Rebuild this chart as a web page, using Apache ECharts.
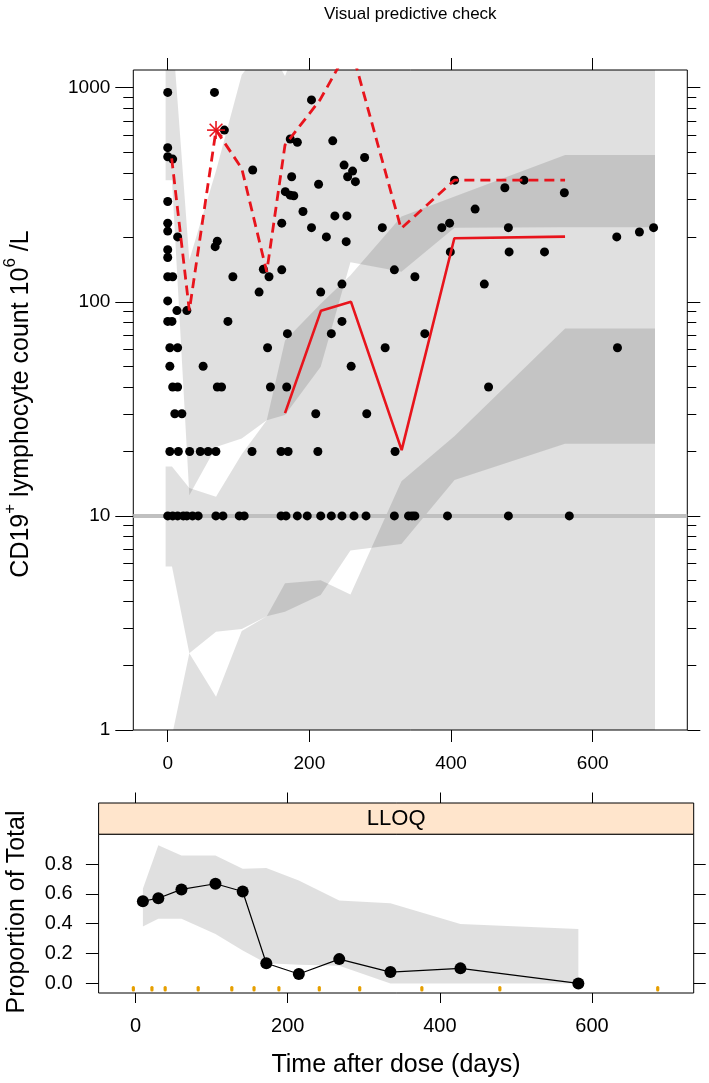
<!DOCTYPE html>
<html>
<head>
<meta charset="utf-8">
<script src="https://cdn.jsdelivr.net/npm/echarts@6/dist/echarts.min.js"></script>
<style>
html,body{margin:0;padding:0;background:#ffffff;}
#chart{width:709px;height:1083px;}
</style>
</head>
<body>
<div id="chart"></div>
<script>
// ================= DATA =================
// Upper panel: x positions (days) of the simulation bins used for the prediction-interval bands
const binX = [-3, 6, 30.5, 68.2, 104.5, 139.8, 165.6, 216, 258, 330, 405, 561, 688];
// 95% CI of the simulated upper percentile
const upperCI_lo = [370, 370, 12.5, 21, 23, 28, 29.6, 49.8, 153, 138, 222, 223, 223];
const upperCI_hi = [3000, 1950, 157, 409, 1150, 1600, 1135, 3000, 3000, 3000, 3000, 3000, 3000];
// 95% CI of the simulated median
const medianCI_lo = [5.8, 5.8, 2.28, 2.88, 2.96, 3.4, 3.57, 4.27, 6.9, 7.4, 14.7, 21.7, 21.7];
const medianCI_hi = [17, 17, 13.5, 12.3, 19.4, 28, 66, 98, 133, 250, 310, 485, 485];
// 95% CI of the simulated lower percentile
const lowerCI_lo = [0.3, 0.3, 0.3, 0.3, 0.3, 0.3, 0.3, 0.3, 0.3, 0.3, 0.3, 0.3, 0.3];
const lowerCI_hi = [0.94, 0.94, 2.28, 1.43, 2.9, 3.4, 4.85, 5.0, 4.3, 14.5, 23.6, 75, 75];

// Observed upper percentile (dashed) and observed median (solid)
const obsUpperX = [5.6, 30.5, 68.2, 104.5, 139.8, 165.6, 215, 258, 329.4, 404.7, 561];
const obsUpperY = [468, 91, 634, 420, 138, 540, 877, 1577, 220, 370, 370];
const obsMedianX = [165.6, 216.4, 258.8, 330.3, 404.7, 561];
const obsMedianY = [30.2, 90.9, 100, 20.3, 198, 201.6];
// Flagged observed percentile (asterisk)
const flagged = [[68.2, 634]];
// LLOQ reference line
const lloq = 10;

// Observed CD19+ counts: [time (days), count]
const observed = [
  [0,951],[0,525],[0,476],[7,464],[0,294],[0,233],[0,214],[14,201],[0,175],[0,161],[0,131],[7,131],
  [0,101],[13,91],[27,91],[0,81],[6,81],[3,61],[14,61],[3,50],[7,40],[14,40],[10,30],[20,30],
  [3,20],[15,20],[31,20],[46,20],[57,20],[68,20],[119,20],[160,20],[170,20],[212,20],[321,20],
  [0,10],[7,10],[14,10],[22,10],[27,10],[35,10],[43,10],[68,10],[78,10],[101,10],[108,10],[160,10],
  [167,10],[183,10],[197,10],[216,10],[231,10],[246,10],[263,10],[280,10],[320,10],[340,10],[345,10],
  [349,10],[395,10],[481,10],[567,10],
  [66,951],[80,634],[203,877],[120,413],[173,576],[183,556],[175,384],[213,354],[166,327],[173,315],
  [178,313],[191,264],[161,233],[203,222],[233,565],[278,472],[249,435],[261,408],[254,384],[265,364],
  [236,252],[253,252],[224,201],[252,191],[303,222],[70,192],[67,181],[92,131],[135,142],[143,131],
  [161,141],[129,111],[216,111],[246,121],[85,81],[246,81],[231,71],[169,71],[141,61],[307,61],
  [50,50],[259,50],[70,40],[76,40],[145,40],[168,40],[209,30],[281,30],[363,71],[453,40],[320,141],
  [349,131],[447,121],[405,370],[503,370],[476,341],[560,323],[434,271],[387,222],[398,233],[481,222],
  [399,171],[482,171],[532,171],[634,201],[666,212],[686,222],[635,61]
];

// Lower panel: proportion of observations below LLOQ
const llBinX = [9.6, 29.9, 60.3, 105, 140.8, 171.8, 214.6, 267.7, 335, 427, 582];
const llObs = [0.551, 0.571, 0.630, 0.668, 0.616, 0.135, 0.063, 0.163, 0.076, 0.101, 0.0];
const llSim_lo = [0.381, 0.433, 0.433, 0.332, 0.220, 0.135, 0.126, 0.119, 0.0, 0.0, 0.0];
const llSim_hi = [0.635, 0.926, 0.858, 0.858, 0.769, 0.773, 0.690, 0.556, 0.538, 0.399, 0.365];
// Bin boundaries (rug)
const binBounds = [-2.9, 21.5, 38.9, 82.3, 126.5, 155.7, 188.4, 241.5, 294.6, 376.3, 478.8, 686.3];

// Axis ticks
const xTicks = [0, 200, 400, 600];
const yMajor = [1, 10, 100, 1000];
const yMinor = [2,3,4,5,6,7,8,9,20,30,40,50,60,70,80,90,200,300,400,500,600,700,800,900];
const pTicks = [0, 0.2, 0.4, 0.6, 0.8];

// ================= STYLE / LAYOUT =================
const FONT = '"Liberation Sans", Arial, Helvetica, sans-serif';
const RED = '#e8141c';
const BAND = 'rgba(0,0,0,0.12)';
const X_MIN = -48.6, X_MAX = 733.6;
const Y_MIN = 1, Y_MAX = 1210;
const P_MIN = -0.064, P_MAX = 1.0;

const G0 = {left: 133.3, top: 70, width: 554, height: 660};
const G1 = {left: 98.6, top: 834.2, width: 595.1, height: 158.8};

const chart = echarts.init(document.getElementById('chart'), null, {renderer: 'canvas'});

function bandSeries(xs, lo, hi, xi, yi, z) {
  return {
    type: 'custom', xAxisIndex: xi, yAxisIndex: yi, clip: true, silent: true, z: z,
    data: [[xs[0], hi[0]]],
    renderItem: function (params, api) {
      const pts = [];
      for (let i = 0; i < xs.length; i++) pts.push(api.coord([xs[i], hi[i]]));
      for (let i = xs.length - 1; i >= 0; i--) pts.push(api.coord([xs[i], lo[i]]));
      return {type: 'polygon', shape: {points: pts}, style: {fill: BAND, stroke: null}};
    }
  };
}

function xAxisDef(grid, pos, labels, tickLen, offset) {
  return {
    gridIndex: grid, type: 'value', min: X_MIN, max: X_MAX, position: pos, offset: offset || 0,
    axisLine: {show: false, onZero: false},
    axisTick: {show: true, inside: false, length: tickLen, customValues: xTicks, lineStyle: {color: '#000', width: 1}},
    axisLabel: labels ? {show: true, customValues: xTicks, color: '#000', fontFamily: FONT,
      fontSize: grid === 0 ? 19 : 20, margin: grid === 0 ? 24 : 23,
      formatter: function (v) { return String(v); }} : {show: false},
    splitLine: {show: false}
  };
}
function yLogDef(pos, ticks, len, labels) {
  return {
    gridIndex: 0, type: 'log', logBase: 10, min: Y_MIN, max: Y_MAX, position: pos,
    axisLine: {show: false, onZero: false},
    axisTick: {show: true, inside: false, length: len, customValues: ticks, lineStyle: {color: '#000', width: 1}},
    axisLabel: labels ? {show: true, customValues: ticks, color: '#000', fontFamily: FONT, fontSize: 19, margin: 23,
      formatter: function (v) { return String(Math.round(v)); }} : {show: false},
    splitLine: {show: false}, minorTick: {show: false}
  };
}
function yPropDef(pos, labels, len) {
  return {
    gridIndex: 1, type: 'value', min: P_MIN, max: P_MAX, position: pos,
    axisLine: {show: false, onZero: false},
    axisTick: {show: true, inside: false, length: len, customValues: pTicks, lineStyle: {color: '#000', width: 1}},
    axisLabel: labels ? {show: true, customValues: pTicks, color: '#000', fontFamily: FONT, fontSize: 20, margin: 26,
      formatter: function (v) { return (+v).toFixed(1); }} : {show: false},
    splitLine: {show: false}
  };
}

const option = {
  animation: false,
  backgroundColor: '#ffffff',
  grid: [
    Object.assign({show: true, borderColor: '#000', borderWidth: 1, backgroundColor: 'transparent'}, G0),
    Object.assign({show: true, borderColor: '#000', borderWidth: 1, backgroundColor: 'transparent'}, G1)
  ],
  xAxis: [
    xAxisDef(0, 'bottom', true, 12),
    xAxisDef(0, 'top', false, 12),
    xAxisDef(1, 'bottom', true, 10),
    xAxisDef(1, 'top', false, 10.5, 31.2)
  ],
  yAxis: [
    yLogDef('left', yMajor, 18, true),
    yLogDef('left', yMinor, 10, false),
    yLogDef('right', yMajor, 13, false),
    yLogDef('right', yMinor, 9, false),
    yPropDef('left', true, 12.7),
    yPropDef('right', false, 12)
  ],
  series: [
    bandSeries(binX, upperCI_lo, upperCI_hi, 0, 0, 1),
    bandSeries(binX, medianCI_lo, medianCI_hi, 0, 0, 1),
    bandSeries(binX, lowerCI_lo, lowerCI_hi, 0, 0, 1),
    {
      type: 'line', xAxisIndex: 0, yAxisIndex: 0, z: 2, silent: true, symbol: 'none',
      data: [[X_MIN, lloq], [X_MAX, lloq]],
      lineStyle: {color: '#c0c0c0', width: 4}
    },
    {
      type: 'scatter', xAxisIndex: 0, yAxisIndex: 0, z: 3, silent: true,
      symbol: 'circle', symbolSize: 9, itemStyle: {color: '#000', opacity: 1},
      data: observed
    },
    {
      type: 'line', xAxisIndex: 0, yAxisIndex: 0, z: 4, silent: true, symbol: 'none', clip: true,
      data: obsUpperX.map((x, i) => [x, obsUpperY[i]]),
      lineStyle: {color: RED, width: 2.8, type: [10, 6]}
    },
    {
      type: 'line', xAxisIndex: 0, yAxisIndex: 0, z: 4, silent: true, symbol: 'none', clip: true,
      data: obsMedianX.map((x, i) => [x, obsMedianY[i]]),
      lineStyle: {color: RED, width: 2.6}
    },
    {
      type: 'custom', xAxisIndex: 0, yAxisIndex: 0, z: 5, silent: true,
      data: flagged,
      renderItem: function (params, api) {
        const c = api.coord([api.value(0), api.value(1)]);
        const r = 9, kids = [];
        for (let k = 0; k < 4; k++) {
          const a = k * Math.PI / 4;
          kids.push({type: 'line', shape: {x1: c[0] - r * Math.cos(a), y1: c[1] - r * Math.sin(a),
            x2: c[0] + r * Math.cos(a), y2: c[1] + r * Math.sin(a)}, style: {stroke: RED, lineWidth: 1.6}});
        }
        return {type: 'group', children: kids};
      }
    },
    // lower panel
    bandSeries(llBinX, llSim_lo, llSim_hi, 2, 4, 1),
    {
      type: 'line', xAxisIndex: 2, yAxisIndex: 4, z: 3, silent: true,
      symbol: 'circle', symbolSize: 12, itemStyle: {color: '#000', opacity: 1},
      lineStyle: {color: '#000', width: 1.2},
      data: llBinX.map((x, i) => [x, llObs[i]])
    },
    {
      type: 'custom', xAxisIndex: 2, yAxisIndex: 4, z: 4, silent: true,
      data: binBounds.map(x => [x, 0]),
      renderItem: function (params, api) {
        const p = api.coord([api.value(0), 0]);
        const bottom = params.coordSys.y + params.coordSys.height;
        return {type: 'rect', shape: {x: p[0] - 1.6, y: bottom - 7, width: 3.2, height: 5.5, r: 1.5},
          style: {fill: '#e69f00'}};
      }
    }
  ],
  graphic: [
    {type: 'text', x: G0.left + G0.width / 2, y: 14,
      style: {text: 'Visual predictive check', font: '17px ' + FONT, fill: '#000', align: 'center', verticalAlign: 'middle'}},
    {type: 'rect', shape: {x: G1.left, y: 803, width: G1.width, height: 31.2},
      style: {fill: '#ffe5cc', stroke: '#000', lineWidth: 1}, z: 10},
    {type: 'text', x: G1.left + G1.width / 2, y: 818.6, z: 11,
      style: {text: 'LLOQ', font: '22px ' + FONT, fill: '#000', align: 'center', verticalAlign: 'middle'}},
    {type: 'text', x: 396, y: 1065,
      style: {text: 'Time after dose (days)', font: '25px ' + FONT, fill: '#000', align: 'center', verticalAlign: 'middle'}},
    {type: 'text', x: 17, y: 912, rotation: Math.PI / 2,
      style: {text: 'Proportion of Total', font: '25px ' + FONT, fill: '#000', align: 'center', verticalAlign: 'middle'}},
    {type: 'text', x: 18, y: 404, rotation: Math.PI / 2,
      style: {
        text: '{n|CD19}{s|+}{n| lymphocyte count 10}{s|6}{n| /L}',
        align: 'center', verticalAlign: 'middle',
        rich: {
          n: {fontFamily: FONT, fontSize: 25, lineHeight: 32, verticalAlign: 'bottom', fill: '#000'},
          s: {fontFamily: FONT, fontSize: 17, lineHeight: 18, verticalAlign: 'top', fill: '#000'}
        }
      }}
  ]
};
chart.setOption(option);
</script>
</body>
</html>
